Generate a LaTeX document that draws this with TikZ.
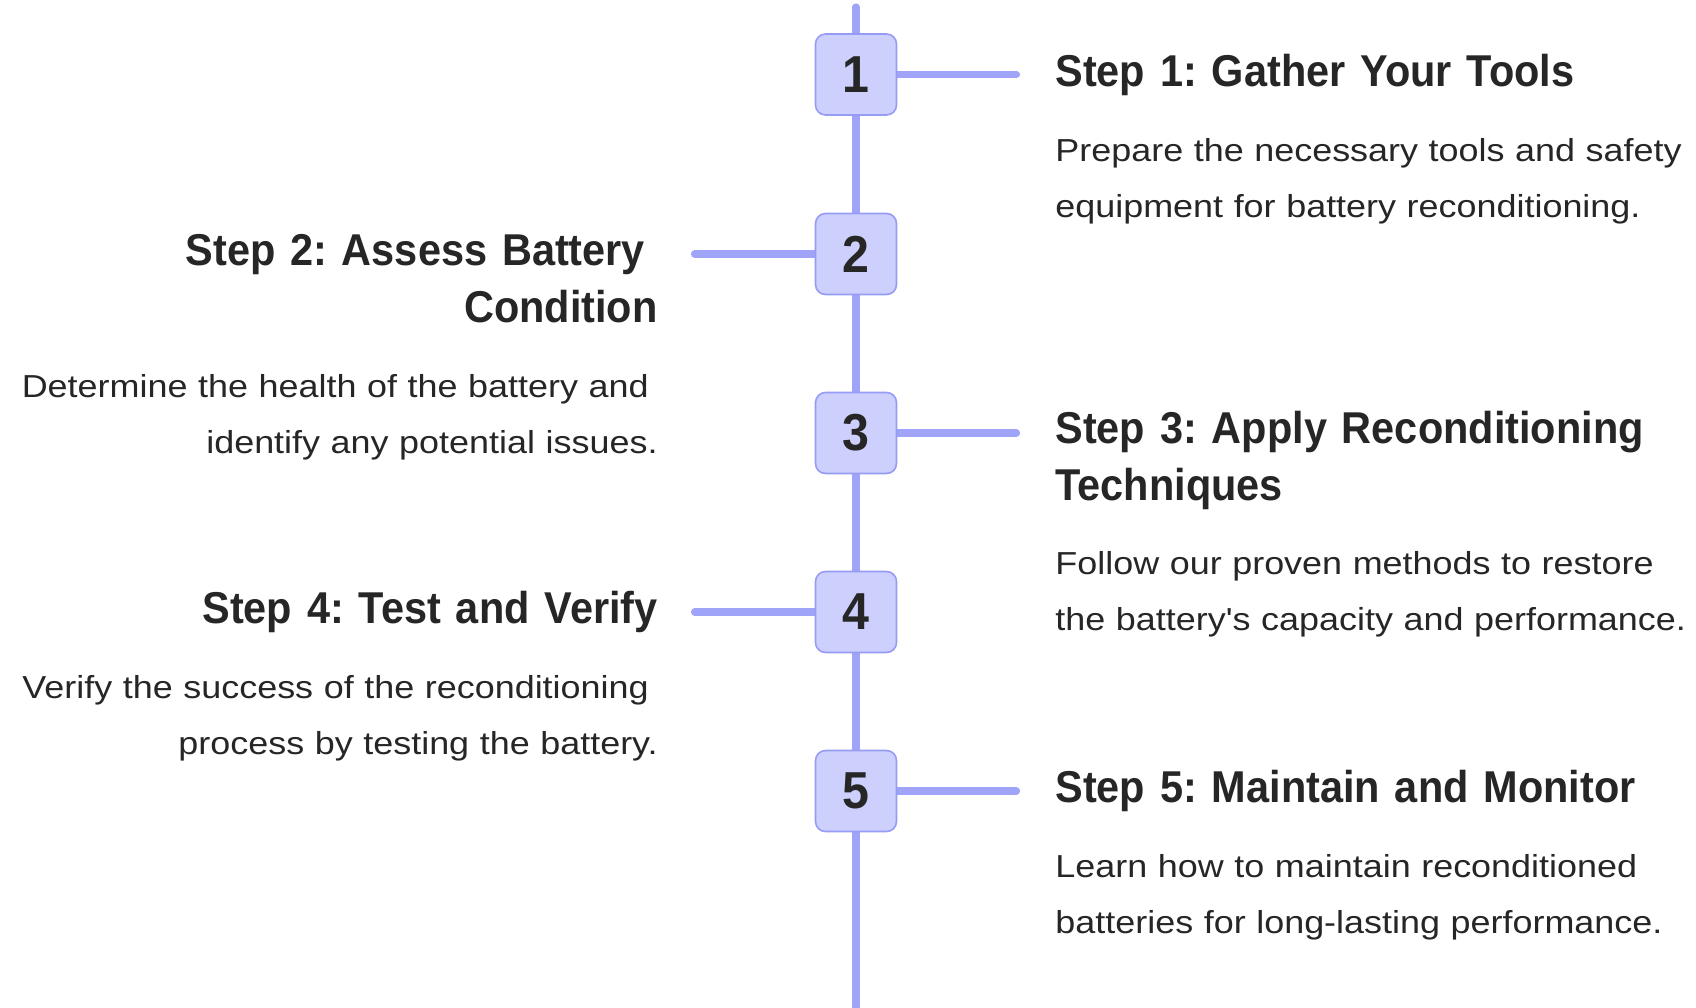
\documentclass[tikz,border=0pt]{standalone}
\usepackage{fontspec}
\setmainfont{Liberation Sans}
\newfontfamily\headfont{Liberation Sans Bold}[FakeStretch=0.93]
\newfontfamily\bodyfont{Liberation Sans}[FakeStretch=1.13]
\frenchspacing
\usetikzlibrary{backgrounds, calc}
\definecolor{rail}{RGB}{160,164,248}
\definecolor{boxfill}{RGB}{205,208,252}
\definecolor{boxline}{RGB}{150,156,246}
\definecolor{ink}{RGB}{38,38,38}
\tikzset{
    stepnum/.style = {draw = boxline, line width = 0.8pt, fill = boxfill, rounded corners = 5pt,
        minimum size = 40.5pt, inner sep = 0pt, text = ink, font = \headfont\fontsize{26}{26}\selectfont},
    link/.style = {rail, line width = 3.8pt, line cap = round},
    title/.style = {text width = 350pt, inner sep = 0pt, text = ink, font = \headfont\fontsize{22.3}{28.5}\selectfont},
    desc/.style = {text width = 350pt, inner sep = 0pt, text = ink, font = \bodyfont\fontsize{15.9}{28}\selectfont},
}

\begin{document}
\begin{tikzpicture}[x = 0.5pt, y = -0.5pt]

    \useasboundingbox (0,0) rectangle (1696,1007);

    \coordinate (top) at (856,7);
    \coordinate (bot) at (856,1012);

    \node[stepnum] (s1) at (856,74.5) {1};
    \node[stepnum] (s2) at (856,254) {2};
    \node[stepnum] (s3) at (856,433) {3};
    \node[stepnum] (s4) at (856,612) {4};
    \node[stepnum] (s5) at (856,791) {5};

    % ends of the short arms
    \coordinate (e1) at ($(s1.east) + (119,0)$);
    \coordinate (e2) at ($(s2.west) + (-120,0)$);
    \coordinate (e3) at ($(s3.east) + (119,0)$);
    \coordinate (e4) at ($(s4.west) + (-120,0)$);
    \coordinate (e5) at ($(s5.east) + (119,0)$);

    \begin{scope}[on background layer]
        \draw[link, line width = 3.6pt] (top) -- (bot);
        \draw[link] (s1.east) -- (e1);
        \draw[link] (s2.west) -- (e2);
        \draw[link] (s3.east) -- (e3);
        \draw[link] (s4.west) -- (e4);
        \draw[link] (s5.east) -- (e5);
    \end{scope}

    % right column
    \node[title, anchor = base west] (t1) at ($(s1) + (199,11.5)$) {Step 1: Gather Your Tools};
    \node[desc, anchor = base west] (d1) at ($(t1.base west) + (0,75)$) {Prepare the necessary tools and safety\\equipment for battery reconditioning.};

    \node[title, anchor = base west] (t3) at ($(s3) + (199,10.5)$) {Step 3: Apply Reconditioning\\Techniques};
    \node[desc, anchor = base west] (d3) at ($(t3.base west) + (0,131)$) {Follow our proven methods to restore\\the battery{\char39}s capacity and performance.};

    \node[title, anchor = base west] (t5) at ($(s5) + (199,11)$) {Step 5: Maintain and Monitor};
    \node[desc, anchor = base west] (d5) at ($(t5.base west) + (0,75)$) {Learn how to maintain reconditioned\\batteries for long-lasting performance.};

    % left column
    \node[title, align = right, anchor = base east] (t2) at ($(s2) + (-198,11)$) {Step 2: Assess Battery\kern0.28em\\Condition};
    \node[desc, align = right, anchor = base east] (d2) at ($(t2.base east) + (0,132)$) {Determine the health of the battery and\kern0.28em\\identify any potential issues.};

    \node[title, align = right, anchor = base east] (t4) at ($(s4) + (-198,11)$) {Step 4: Test and Verify};
    \node[desc, align = right, anchor = base east] (d4) at ($(t4.base east) + (0,75)$) {Verify the success of the reconditioning\kern0.28em\\process by testing the battery.};

\end{tikzpicture}
\end{document}
